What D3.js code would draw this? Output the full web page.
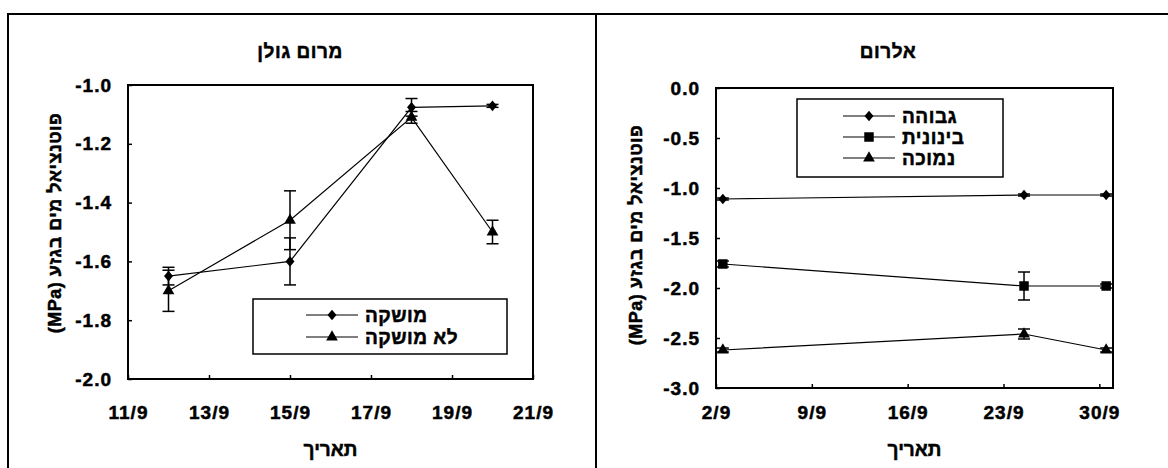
<!DOCTYPE html>
<html>
<head>
<meta charset="utf-8">
<script src="https://cdn.jsdelivr.net/npm/d3@7"></script>
<style>
  body { margin: 0; background: #fff; }
  svg { display: block; }
  text {
    font-family: 'Liberation Sans', Arial, sans-serif;
    font-weight: bold;
    fill: #000;
    stroke: #000;
    stroke-width: 0.5px;
  }
</style>
</head>
<body>
<div id="chart"></div>
<script>
// Merom Golan panel (days of September)
const golanDays = [12, 15, 18, 20];
const golanIrrigated = [-1.65, -1.6, -1.076, -1.071];
const golanIrrigatedErr = [0.03, 0.08, 0.03, 0.005];
const golanDry = [-1.7, -1.46, -1.11, -1.5];
const golanDryErr = [0.07, 0.1, 0.02, 0.04];
const golanXTicks = [11, 13, 15, 17, 19, 21];
const golanYTicks = [-1.0, -1.2, -1.4, -1.6, -1.8, -2.0];
const golanLegend = ['מושקה', 'לא מושקה'];
const golanTitle = 'מרום גולן';

// Alrom panel (days of September)
const alromDays = [2, 24, 30];
const alromHigh = [-1.11, -1.07, -1.07];
const alromHighErr = [0.01, 0.01, 0.01];
const alromMid = [-1.76, -1.98, -1.98];
const alromMidErr = [0.03, 0.14, 0.02];
const alromLow = [-2.62, -2.46, -2.62];
const alromLowErr = [0.02, 0.05, 0.02];
const alromXTicks = [2, 9, 16, 23, 30];
const alromYTicks = [0, -0.5, -1.0, -1.5, -2.0, -2.5, -3.0];
const alromLegend = ['גבוהה', 'בינונית', 'נמוכה'];
const alromTitle = 'אלרום';

const yTitle = 'פוטנציאל מים בגזע (MPa)';
const xTitle = 'תאריך';

// Excel-style diamond, a bit taller than wide
const diamond = {
  draw(context, size) {
    const r = Math.sqrt(size) / 2;
    context.moveTo(0, -r * 1.2);
    context.lineTo(r, 0);
    context.lineTo(0, r * 1.2);
    context.lineTo(-r, 0);
    context.closePath();
  },
};

const svg = d3
  .select('#chart')
  .append('svg')
  .attr('width', 1168)
  .attr('height', 468);

// outer frame and separator
svg
  .append('path')
  .attr('d', 'M8,468V14H1168M596,14V468')
  .attr('fill', 'none')
  .attr('stroke', '#000')
  .attr('stroke-width', 2);

function zipSeries(days, values, errs) {
  return days.map((day, i) => ({ day, value: values[i], err: errs[i] }));
}

function drawPanel(p) {
  const xScale = d3.scaleLinear().domain(p.xDomain).range([p.left, p.right]);
  const yScale = d3.scaleLinear().domain(p.yDomain).range([p.bottom, p.top]);
  const xPos = (d) => xScale(d.day + p.dayOffset);
  const yPos = (d) => yScale(d.value);

  const g = svg.append('g');

  // title
  g.append('text')
    .attr('x', p.titleX)
    .attr('y', 51)
    .attr('dy', '0.35em')
    .attr('text-anchor', 'middle')
    .style('font-size', '19px')
    .style('letter-spacing', '0.5px')
    .text(p.title);

  // y axis
  const yAxis = g
    .append('g')
    .attr('transform', `translate(${p.left},0)`)
    .call(
      d3
        .axisLeft(yScale)
        .tickValues(p.yTicks)
        .tickFormat((d) => d.toFixed(1))
        .tickSizeInner(-4)
        .tickSizeOuter(0)
        .tickPadding(16)
    );
  yAxis.select('.domain').remove();
  yAxis.attr('font-family', null).attr('font-size', null);
  yAxis
    .selectAll('text')
    .style('font-size', '19px')
    .style('letter-spacing', '1px');
  yAxis.selectAll('line').attr('stroke-width', 1.5);

  // x axis
  const xAxis = g
    .append('g')
    .attr('transform', `translate(0,${p.bottom})`)
    .call(
      d3
        .axisBottom(xScale)
        .tickValues(p.xTicks)
        .tickFormat((d) => `${d}/9`)
        .tickSizeInner(-4)
        .tickSizeOuter(0)
    );
  xAxis.select('.domain').remove();
  xAxis.attr('font-family', null).attr('font-size', null);
  xAxis
    .selectAll('text')
    .attr('y', 412 - p.bottom)
    .attr('dy', '0.35em')
    .style('font-size', '19px')
    .style('letter-spacing', '1px');
  xAxis.selectAll('line').attr('stroke-width', 1.5);

  // plot frame
  g.append('rect')
    .attr('x', p.left)
    .attr('y', p.top)
    .attr('width', p.right - p.left)
    .attr('height', p.bottom - p.top)
    .attr('fill', 'none')
    .attr('stroke', '#000')
    .attr('stroke-width', 2);

  // axis titles
  g.append('text')
    .attr('transform', `translate(${p.yTitleX},${p.yTitleY}) rotate(-90)`)
    .attr('dy', '0.35em')
    .attr('text-anchor', 'middle')
    .attr('direction', 'rtl')
    .style('font-size', '18px')
    .style('letter-spacing', '0.5px')
    .text(yTitle);

  g.append('text')
    .attr('x', (p.left + p.right) / 2)
    .attr('y', 449)
    .attr('dy', '0.35em')
    .attr('text-anchor', 'middle')
    .style('font-size', '19px')
    .text(xTitle);

  const line = d3.line().x(xPos).y(yPos);

  p.series.forEach((s) => {
    g.append('path')
      .attr('d', line(s.data))
      .attr('fill', 'none')
      .attr('stroke', '#000')
      .attr('stroke-width', 1.2);

    // error bars
    const bars = g.append('g').attr('stroke', '#000').attr('stroke-width', 1.5);
    s.data.forEach((d) => {
      const x = xPos(d);
      const y0 = yScale(d.value - d.err);
      const y1 = yScale(d.value + d.err);
      bars.append('line').attr('x1', x).attr('x2', x).attr('y1', y0).attr('y2', y1);
      bars.append('line').attr('x1', x - 6).attr('x2', x + 6).attr('y1', y0).attr('y2', y0);
      bars.append('line').attr('x1', x - 6).attr('x2', x + 6).attr('y1', y1).attr('y2', y1);
    });

    g.selectAll(null)
      .data(s.data)
      .join('path')
      .attr('transform', (d) => `translate(${xPos(d)},${yPos(d)})`)
      .attr('d', d3.symbol().type(s.symbol).size(s.size))
      .attr('fill', '#000');
  });

  // legend
  const lg = p.legend;
  g.append('rect')
    .attr('x', lg.x0)
    .attr('y', lg.y0)
    .attr('width', lg.x1 - lg.x0)
    .attr('height', lg.y1 - lg.y0)
    .attr('fill', '#fff')
    .attr('stroke', '#000')
    .attr('stroke-width', 1.5);

  p.series.forEach((s, i) => {
    const y = lg.rows[i];
    g.append('line')
      .attr('x1', lg.lineX0)
      .attr('x2', lg.lineX1)
      .attr('y1', y)
      .attr('y2', y)
      .attr('stroke', '#000')
      .attr('stroke-width', 1.2);
    g.append('path')
      .attr('transform', `translate(${(lg.lineX0 + lg.lineX1) / 2},${y})`)
      .attr('d', d3.symbol().type(s.symbol).size(s.size))
      .attr('fill', '#000');
    g.append('text')
      .attr('x', lg.textX)
      .attr('y', y)
      .attr('dy', '0.35em')
      .style('font-size', '19px')
      .style('letter-spacing', '0.5px')
      .text(s.label);
  });
}

drawPanel({
  title: golanTitle,
  titleX: 300,
  left: 128,
  right: 533,
  top: 85,
  bottom: 379,
  xDomain: [11, 21],
  yDomain: [-2, -1],
  dayOffset: 0,
  xTicks: golanXTicks,
  yTicks: golanYTicks,
  yTitleX: 55,
  yTitleY: 223,
  series: [
    { label: golanLegend[0], data: zipSeries(golanDays, golanIrrigated, golanIrrigatedErr), symbol: diamond, size: 80 },
    { label: golanLegend[1], data: zipSeries(golanDays, golanDry, golanDryErr), symbol: d3.symbolTriangle, size: 60 },
  ],
  legend: { x0: 253, x1: 507, y0: 299, y1: 354, rows: [315, 337], lineX0: 306, lineX1: 358, textX: 365 },
});

drawPanel({
  title: alromTitle,
  titleX: 888,
  left: 716,
  right: 1113,
  top: 88,
  bottom: 388,
  xDomain: [2, 31],
  yDomain: [-3, 0],
  // points sit in the middle of their day on this date axis
  dayOffset: 0.5,
  xTicks: alromXTicks,
  yTicks: alromYTicks,
  yTitleX: 636,
  yTitleY: 235,
  series: [
    { label: alromLegend[0], data: zipSeries(alromDays, alromHigh, alromHighErr), symbol: diamond, size: 80 },
    { label: alromLegend[1], data: zipSeries(alromDays, alromMid, alromMidErr), symbol: d3.symbolSquare, size: 90 },
    { label: alromLegend[2], data: zipSeries(alromDays, alromLow, alromLowErr), symbol: d3.symbolTriangle, size: 60 },
  ],
  legend: { x0: 797, x1: 1003, y0: 99, y1: 177, rows: [116, 137, 158], lineX0: 843, lineX1: 895, textX: 902 },
});
</script>
</body>
</html>
